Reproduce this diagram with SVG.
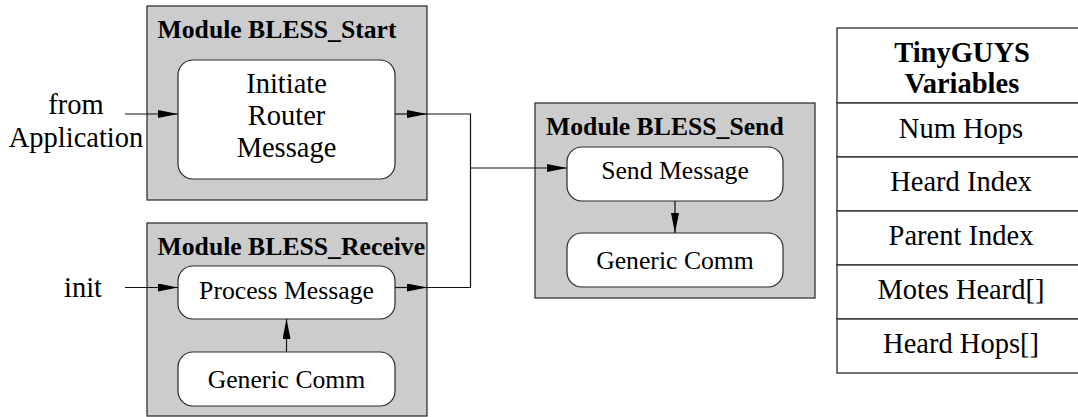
<svg xmlns="http://www.w3.org/2000/svg" width="1078" height="417" viewBox="0 0 1078 417">
  <style>
    .module { fill: #cccccc; stroke: #333333; stroke-width: 1.3; }
    .block { fill: #ffffff; stroke: #2a2a2a; stroke-width: 1.2; }
    .cell { fill: #ffffff; stroke: #2a2a2a; stroke-width: 1.3; }
    .title { font-family: "Liberation Serif", "Times New Roman", serif; font-weight: bold; font-size: 25.7px; fill: #000; }
    .label { font-family: "Liberation Serif", "Times New Roman", serif; font-size: 25.7px; fill: #000; text-anchor: middle; }
    .big { font-family: "Liberation Serif", "Times New Roman", serif; font-size: 28.5px; fill: #000; text-anchor: middle; }
    .bigbold { font-family: "Liberation Serif", "Times New Roman", serif; font-weight: bold; font-size: 28.5px; fill: #000; text-anchor: middle; }
    .wire { fill: none; stroke: #111111; stroke-width: 1.2; }
  </style>
  <defs>
    <marker id="arrow" markerUnits="userSpaceOnUse" markerWidth="21" markerHeight="9" refX="20" refY="4" orient="auto">
      <path d="M0,0 L20,4 L0,8 z" fill="#000"/>
    </marker>
  </defs>

  <rect width="1078" height="417" fill="#ffffff"/>

  <!-- Module BLESS_Start -->
  <g id="bless-start">
    <rect class="module" x="147" y="6" width="280" height="194"/>
    <text class="title" x="157.5" y="38">Module BLESS_Start</text>
    <rect class="block" x="178" y="60" width="217" height="119" rx="15" ry="15"/>
    <text class="big" x="286.5" y="92.5">Initiate</text>
    <text class="big" x="286.5" y="124.5">Router</text>
    <text class="big" x="286.5" y="156.5">Message</text>
  </g>

  <!-- Module BLESS_Receive -->
  <g id="bless-receive">
    <rect class="module" x="147" y="223" width="280" height="193"/>
    <text class="title" x="157.5" y="255">Module BLESS_Receive</text>
    <g id="process-message">
      <rect class="block" x="178" y="266" width="217" height="53" rx="15" ry="15"/>
      <text class="label" x="286.5" y="299">Process Message</text>
    </g>
    <g id="receive-generic-comm">
      <rect class="block" x="178" y="352" width="217" height="54" rx="15" ry="15"/>
      <text class="label" x="286.5" y="388">Generic Comm</text>
    </g>
  </g>

  <!-- Module BLESS_Send -->
  <g id="bless-send">
    <rect class="module" x="535" y="103" width="280" height="195"/>
    <text class="title" x="546" y="135">Module BLESS_Send</text>
    <g id="send-message">
      <rect class="block" x="567" y="147" width="216" height="54" rx="15" ry="15"/>
      <text class="label" x="675" y="178.5">Send Message</text>
    </g>
    <g id="send-generic-comm">
      <rect class="block" x="567" y="233" width="216" height="54" rx="15" ry="15"/>
      <text class="label" x="675" y="269">Generic Comm</text>
    </g>
  </g>

  <!-- External inputs -->
  <g id="from-application">
    <text class="big" x="76" y="113.5">from</text>
    <text class="big" x="76" y="146.5">Application</text>
  </g>
  <g id="init">
    <text class="big" x="83" y="297">init</text>
  </g>

  <!-- TinyGUYS variable table -->
  <g id="tinyguys-table">
    <rect class="cell" x="837" y="28" width="260" height="75"/>
    <rect class="cell" x="837" y="103" width="260" height="54"/>
    <rect class="cell" x="837" y="157" width="260" height="54"/>
    <rect class="cell" x="837" y="211" width="260" height="54"/>
    <rect class="cell" x="837" y="265" width="260" height="54"/>
    <rect class="cell" x="837" y="319" width="260" height="54"/>
    <text class="bigbold" x="962" y="61.5">TinyGUYS</text>
    <text class="bigbold" x="962" y="92.5">Variables</text>
    <text class="big" x="961" y="137.5">Num Hops</text>
    <text class="big" x="961" y="191">Heard Index</text>
    <text class="big" x="961" y="245">Parent Index</text>
    <text class="big" x="961" y="299">Motes Heard[]</text>
    <text class="big" x="961" y="353">Heard Hops[]</text>
  </g>

  <!-- Connectors -->
  <g id="connectors">
    <line class="wire" x1="125" y1="114" x2="178" y2="114" marker-end="url(#arrow)"/>
    <line class="wire" x1="125" y1="287.5" x2="178" y2="287.5" marker-end="url(#arrow)"/>
    <line class="wire" x1="395" y1="114" x2="427" y2="114" marker-end="url(#arrow)"/>
    <line class="wire" x1="395" y1="287.5" x2="427" y2="287.5" marker-end="url(#arrow)"/>
    <polyline class="wire" points="427,114 470.5,114 470.5,287.5 427,287.5"/>
    <line class="wire" x1="470.5" y1="168" x2="567" y2="168" marker-end="url(#arrow)"/>
    <line class="wire" x1="286.5" y1="352" x2="286.5" y2="319" marker-end="url(#arrow)"/>
    <line class="wire" x1="675" y1="201" x2="675" y2="233" marker-end="url(#arrow)"/>
  </g>
</svg>
